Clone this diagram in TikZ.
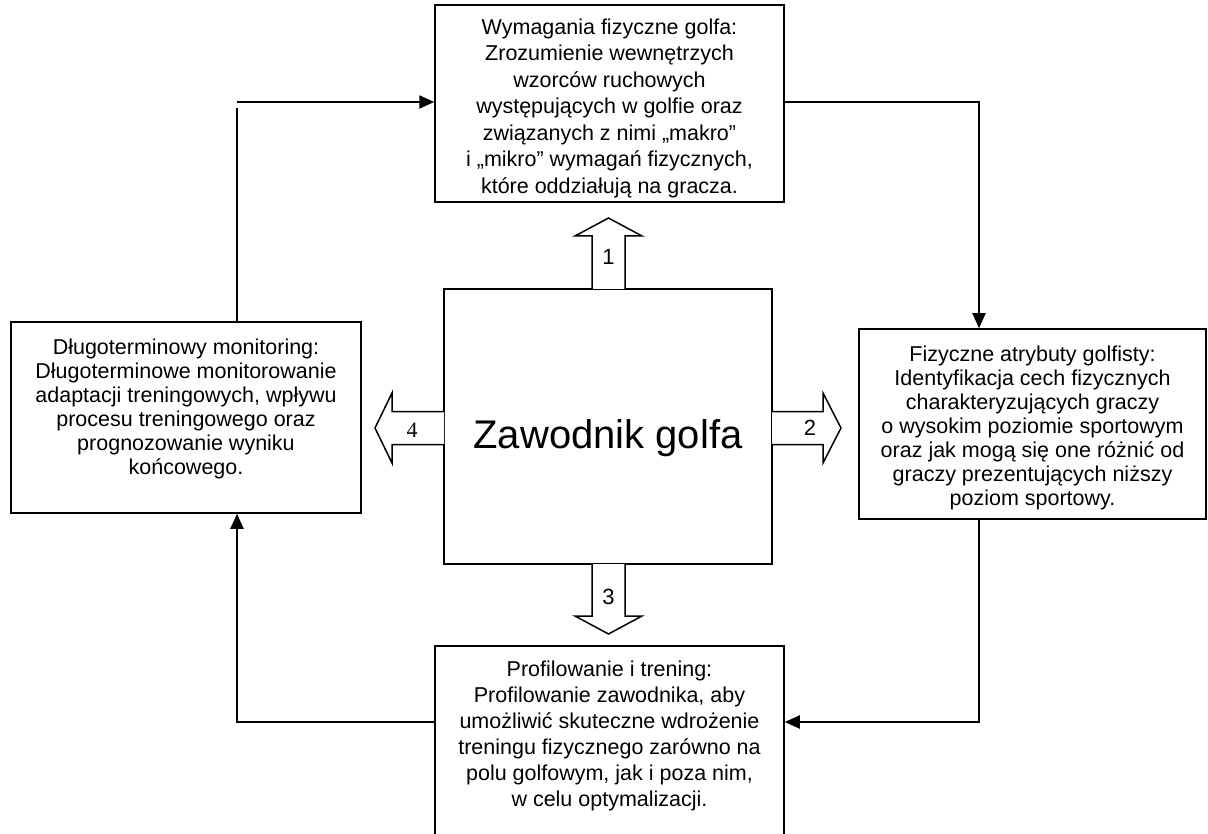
\documentclass[tikz,border=0pt]{standalone}
\usepackage{fontspec}
\setmainfont{Liberation Sans}
\newfontfamily\timesfont{Liberation Serif}
\usetikzlibrary{arrows.meta}
\begin{document}
\begin{tikzpicture}[x=1pt,y=-1pt,
  boxnode/.style={draw, line width=1.5pt, inner sep=0pt},
  txt/.style={align=center, inner sep=0pt, font=\fontsize{21.5}{#1}\selectfont},
  conn/.style={line width=2pt},
  arr/.style={line width=2pt, -{Triangle[length=15pt,width=13pt]}},
  blockarrow/.style={draw, fill=white, line width=1.5pt, line join=miter},
  numlabel/.style={inner sep=0pt, font=\fontsize{22}{25}\selectfont}]
\useasboundingbox (0,0) rectangle (1208,834);

% boxes
\node[boxnode, minimum width=349pt, minimum height=197pt] (top) at (609.5,103.5) {};
\node[boxnode, minimum width=350pt, minimum height=191pt] (left) at (186,417.5) {};
\node[boxnode, minimum width=347pt, minimum height=190pt] (right) at (1032.5,424) {};
\node[boxnode, minimum width=328pt, minimum height=275pt] (center) at (608,426.5) {};
\node[boxnode, minimum width=349pt, minimum height=200pt] (bottom) at (609.5,746) {};

% texts
\node[txt=26.5] (toptxt) at (609.5,108) {Wymagania fizyczne golfa:\\Zrozumienie wewnętrzych\\wzorców ruchowych\\występujących w golfie oraz\\związanych z nimi „makro”\\i „mikro” wymagań fizycznych,\\które oddziałują na gracza.};
\node[txt=24] (lefttxt) at (186,409) {Długoterminowy monitoring:\\Długoterminowe monitorowanie\\adaptacji treningowych, wpływu\\procesu treningowego oraz\\prognozowanie wyniku\\końcowego.};
\node[txt=24] (righttxt) at (1032.5,428) {Fizyczne atrybuty golfisty:\\Identyfikacja cech fizycznych\\charakteryzujących graczy\\o wysokim poziomie sportowym\\oraz jak mogą się one różnić od\\graczy prezentujących niższy\\poziom sportowy.};
\node[txt=26] (bottomtxt) at (609.5,736) {Profilowanie i trening:\\Profilowanie zawodnika, aby\\umożliwić skuteczne wdrożenie\\treningu fizycznego zarówno na\\polu golfowym, jak i poza nim,\\w celu optymalizacji.};
\node[inner sep=0pt, font=\fontsize{40}{46}\selectfont] (centertxt) at (608,438) {Zawodnik golfa};

% block arrows
\draw[blockarrow] (592,289) -- (592,236) -- (575,236) -- (608.5,218) -- (642,236) -- (625,236) -- (625,289);
\draw[blockarrow] (772,411.5) -- (823,411.5) -- (823,393) -- (841,428) -- (823,463) -- (823,444.5) -- (772,444.5);
\draw[blockarrow] (592,564) -- (592,616) -- (575,616) -- (608.5,634) -- (642,616) -- (625,616) -- (625,564);
\draw[blockarrow] (444,411.5) -- (392,411.5) -- (392,393) -- (375,428) -- (392,463) -- (392,444.5) -- (444,444.5);
\node[numlabel] (n1) at (608.5,257) {1};
\node[numlabel] (n2) at (810,428) {2};
\node[numlabel] (n3) at (608.5,597) {3};
\node[numlabel, font=\fontsize{22}{25}\timesfont] (n4) at (412,430) {4};

% connectors
\coordinate (c1) at (237,102);
\coordinate (c1b) at (237,108);
\coordinate (c2) at (979,102);
\coordinate (c3) at (979,722);
\coordinate (c4) at (237,722);
\draw[conn] (c1b) -- (c1b |- left.north);
\draw[arr] (c1) -- (c1 -| top.west);
\draw[arr] (top.east |- c2) -- (c2) -- (c2 |- right.north);
\draw[arr] (c3 |- right.south) -- (c3) -- (c3 -| bottom.east);
\draw[arr] (c4 -| bottom.west) -- (c4) -- (c4 |- left.south);
\end{tikzpicture}
\end{document}
